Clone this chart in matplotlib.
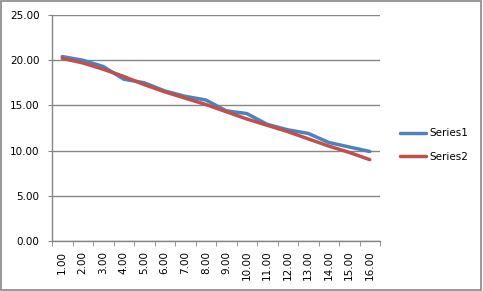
import matplotlib.pyplot as plt
import numpy as np

categories = ["1.00", "2.00", "3.00", "4.00", "5.00", "6.00", "7.00", "8.00",
              "9.00", "10.00", "11.00", "12.00", "13.00", "14.00", "15.00", "16.00"]
series1 = [20.4, 20.0, 19.3, 17.9, 17.5, 16.6, 16.0, 15.6,
           14.4, 14.1, 12.9, 12.3, 11.9, 10.9, 10.4, 9.9]
series2 = [20.2, 19.7, 19.0, 18.2, 17.3, 16.5, 15.8, 15.1,
           14.3, 13.5, 12.8, 12.1, 11.3, 10.5, 9.8, 9.0]
yticks = [0, 5, 10, 15, 20, 25]

plt.rcParams['font.family'] = ['DejaVu Sans']
grey = "#868686"

fig = plt.figure(figsize=(4.83, 2.91), dpi=100)
# outer chart border
fig.patches.append(plt.Rectangle((0.003, 0.005), 0.992, 0.99, transform=fig.transFigure,
                                 fill=False, edgecolor=grey, linewidth=1.2))
ax = fig.add_axes([52 / 483, 50 / 291, 328 / 483, 226 / 291])

x = np.arange(1, len(categories) + 1)
ax.plot(x, series1, color="#4F81BD", linewidth=2.5, label="Series1", solid_capstyle="round")
ax.plot(x, series2, color="#C0504D", linewidth=2.5, label="Series2", solid_capstyle="round")

ax.set_xlim(0.5, len(categories) + 0.5)
ax.set_ylim(0, 25)
ax.set_yticks(yticks)
ax.set_yticklabels(["%.2f" % v for v in yticks], fontsize=7.5)
ax.set_xticks(x)
ax.set_xticklabels(categories, rotation=90, fontsize=7.5)
ax.set_xticks(np.arange(0.5, len(categories) + 1), minor=True)
ax.tick_params(axis="x", which="major", length=0, pad=7)
ax.tick_params(axis="x", which="minor", length=3.6, color=grey, direction="out")
ax.tick_params(axis="y", length=3, color=grey, direction="out", pad=6)
ax.yaxis.grid(True, color=grey, linewidth=1)
ax.set_axisbelow(True)
for s in ["top", "right"]:
    ax.spines[s].set_visible(False)
for s in ["left", "bottom"]:
    ax.spines[s].set_color(grey)
    ax.spines[s].set_linewidth(1)

ax.legend(loc="center left", bbox_to_anchor=((400 - 52) / 328, (241 - 145) / 226),
          frameon=False, fontsize=7.5, borderpad=0, borderaxespad=0,
          handlelength=2.5, handletextpad=0.3, labelspacing=1.3)

fig.savefig("out.png", dpi=100)
